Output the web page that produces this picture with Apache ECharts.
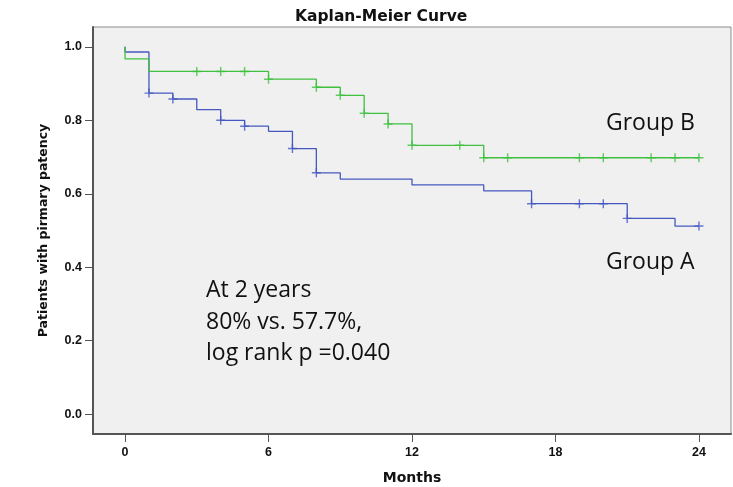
<!DOCTYPE html>
<html>
<head>
<meta charset="utf-8">
<script src="https://cdn.jsdelivr.net/npm/echarts@6/dist/echarts.min.js"></script>
<style>html,body{margin:0;padding:0;background:#fff;}#c{width:733px;height:487px;}</style>
</head>
<body>
<div id="c"></div>
<script>
// Group A (blue): [month, survival]
const groupA = [[0,1.0],[0,0.986],[1,0.874],[2,0.858],[3,0.829],[4,0.800],[5,0.784],[6,0.770],[7,0.723],[8,0.657],[9,0.640],[12,0.624],[15,0.608],[17,0.573],[21,0.533],[23,0.512],[24,0.512]];
const groupACensored = [[1,0.874],[2,0.858],[4,0.800],[5,0.784],[7,0.723],[8,0.657],[17,0.573],[19,0.573],[20,0.573],[21,0.533],[24,0.512]];
// Group B (green)
const groupB = [[0,1.0],[0,0.967],[1,0.933],[6,0.912],[8,0.890],[9,0.868],[10,0.819],[11,0.790],[12,0.732],[15,0.698],[24,0.698]];
const groupBCensored = [[3,0.933],[4,0.933],[5,0.933],[6,0.912],[8,0.890],[9,0.868],[10,0.819],[11,0.790],[12,0.732],[14,0.732],[15,0.698],[16,0.698],[19,0.698],[20,0.698],[22,0.698],[23,0.698],[24,0.698]];
const xTicks = [0,6,12,18,24];
const yTicks = [0,0.2,0.4,0.6,0.8,1.0];

const blue = '#4558bf', green = '#3fc03f';
const plus = 'path://M4.2,0H5.8V10H4.2ZM0,4.2H10V5.8H0Z';
const tickFont = {fontFamily:'Liberation Sans, Arial, sans-serif', fontWeight:'bold', color:'#111', fontSize:12.5};
const nameFont = {fontFamily:'DejaVu Sans, sans-serif', fontWeight:'bold', color:'#111'};
const noteFont = 'Open Sans, sans-serif';

const chart = echarts.init(document.getElementById('c'));
chart.setOption({
  animation:false,
  backgroundColor:'#ffffff',
  title:{text:'Kaplan-Meier Curve', left:290, top:4, textStyle:{fontFamily:'DejaVu Sans, sans-serif', fontWeight:'bold', fontSize:15.5, color:'#111'}},
  grid:{left:93, top:27, right:2, bottom:53, containLabel:false, outerBoundsMode:'none', show:true, backgroundColor:'#f0f0f0', borderColor:'#8c8c8c', borderWidth:1},
  xAxis:{type:'value', min:-1.34, max:25.34,
    name:'Months', nameLocation:'middle', nameGap:37, nameTextStyle:Object.assign({}, nameFont, {fontSize:14}),
    axisLine:{show:true, onZero:false, lineStyle:{color:'#555', width:2}},
    axisTick:{show:true, length:8, customValues:xTicks, lineStyle:{color:'#555', width:1}},
    axisLabel:Object.assign({customValues:xTicks, margin:12}, tickFont),
    splitLine:{show:false}},
  yAxis:{type:'value', min:-0.054, max:1.054,
    name:'Patients with pirmary patency', nameLocation:'middle', nameGap:43, nameTextStyle:Object.assign({}, nameFont, {fontSize:12.5}),
    axisLine:{show:true, onZero:false, lineStyle:{color:'#555', width:2}},
    axisTick:{show:true, length:8, customValues:yTicks, lineStyle:{color:'#555', width:1}},
    axisLabel:Object.assign({customValues:yTicks, margin:11, formatter:v=>v.toFixed(1)}, tickFont),
    splitLine:{show:false}},
  series:[
    {type:'line', name:'Group A', data:groupA, step:'end', showSymbol:false, lineStyle:{color:blue, width:1.3}, z:2},
    {type:'line', name:'Group B', data:groupB, step:'end', showSymbol:false, lineStyle:{color:green, width:1.3}, z:3},
    {type:'scatter', data:groupACensored, symbol:plus, symbolSize:9, itemStyle:{color:blue}, z:4},
    {type:'scatter', data:groupBCensored, symbol:plus, symbolSize:9, itemStyle:{color:green}, z:4}
  ],
  graphic:[
    {type:'text', left:606, top:112, style:{text:'Group B', font:'23px '+noteFont, fill:'#111'}},
    {type:'text', left:606, top:251, style:{text:'Group A', font:'23px '+noteFont, fill:'#111'}},
    {type:'text', left:206, top:275, style:{text:'At 2 years\n80% vs. 57.7%,\nlog rank p =0.040', font:'23px '+noteFont, lineHeight:31.5, fill:'#111'}}
  ]
});
</script>
</body>
</html>
